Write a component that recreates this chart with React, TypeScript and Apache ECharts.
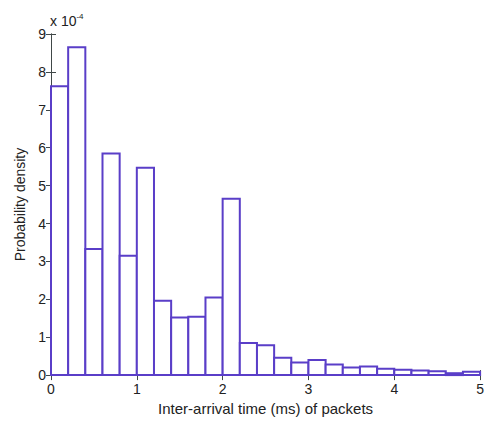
import React, { useEffect, useRef } from "react";
import * as echarts from "echarts";

const binStarts = [0, 0.2, 0.4, 0.6, 0.8, 1.0, 1.2, 1.4, 1.6, 1.8, 2.0, 2.2, 2.4, 2.6, 2.8, 3.0, 3.2, 3.4, 3.6, 3.8, 4.0, 4.2, 4.4, 4.6, 4.8];
const binWidth = 0.2;
const density = [7.62, 8.65, 3.33, 5.85, 3.15, 5.47, 1.96, 1.52, 1.54, 2.05, 4.65, 0.85, 0.79, 0.46, 0.33, 0.40, 0.28, 0.20, 0.23, 0.17, 0.14, 0.12, 0.10, 0.05, 0.09];
const xTicks = [0, 1, 2, 3, 4, 5];
const yTicks = [0, 1, 2, 3, 4, 5, 6, 7, 8, 9];

const FONT = "Liberation Sans, Arial, sans-serif";
const BAR = "#5a3ec8";
const AXIS = "#404848";

export default function App() {
  const ref = useRef<HTMLDivElement>(null);
  useEffect(() => {
    document.body.style.margin = "0";
    if (!ref.current) return;
    const chart = echarts.init(ref.current, null, { renderer: "svg" });
    const data = binStarts.map((s, i) => [s, s + binWidth, density[i]]);
    const axisCommon = {
      axisLine: { show: true, lineStyle: { color: AXIS, width: 1 } },
      axisTick: { show: true, inside: true, length: 5, lineStyle: { color: AXIS } },
      splitLine: { show: false },
    };
    chart.setOption({
      animation: false,
      backgroundColor: "#ffffff",
      grid: { left: 51, right: 5, top: 34, bottom: 40, containLabel: false },
      xAxis: [
        {
          type: "value",
          min: xTicks[0],
          max: xTicks[xTicks.length - 1],
          interval: 1,
          position: "bottom",
          ...axisCommon,
          axisLabel: { color: "#222", fontFamily: FONT, fontSize: 14, margin: 7 },
          name: "Inter-arrival time (ms) of packets",
          nameLocation: "middle",
          nameGap: 19,
          nameTextStyle: { color: "#222", fontFamily: FONT, fontSize: 15 },
        },
        {
          type: "value",
          min: xTicks[0],
          max: xTicks[xTicks.length - 1],
          interval: 1,
          position: "top",
          ...axisCommon,
          axisLabel: { show: false },
        },
      ],
      yAxis: [
        {
          type: "value",
          min: yTicks[0],
          max: yTicks[yTicks.length - 1],
          interval: 1,
          position: "left",
          ...axisCommon,
          axisLabel: { color: "#222", fontFamily: FONT, fontSize: 14, margin: 5 },
          name: "Probability density",
          nameLocation: "middle",
          nameGap: 24,
          nameRotate: 90,
          nameTextStyle: { color: "#222", fontFamily: FONT, fontSize: 14 },
        },
        {
          type: "value",
          min: yTicks[0],
          max: yTicks[yTicks.length - 1],
          interval: 1,
          position: "right",
          ...axisCommon,
          axisLabel: { show: false },
        },
      ],
      graphic: [
        {
          type: "text",
          left: 50,
          top: 12,
          style: {
            text: "{a|x 10}{b|-4}",
            rich: {
              a: { fontFamily: FONT, fontSize: 14, fill: "#222", verticalAlign: "bottom" },
              b: { fontFamily: FONT, fontSize: 8, fill: "#222", verticalAlign: "top", padding: [0, 0, 8, 0] },
            },
          },
        },
      ],
      series: [
        {
          type: "custom",
          xAxisIndex: 0,
          yAxisIndex: 0,
          data,
          encode: { x: [0, 1], y: 2 },
          renderItem: (params: any, api: any) => {
            const x0 = api.value(0);
            const x1 = api.value(1);
            const v = api.value(2);
            const p0 = api.coord([x0, v]);
            const p1 = api.coord([x1, 0]);
            return {
              type: "rect",
              shape: { x: p0[0], y: p0[1], width: p1[0] - p0[0], height: p1[1] - p0[1] },
              style: { fill: "#ffffff", stroke: BAR, lineWidth: 2 },
            };
          },
        },
      ],
    });
    return () => chart.dispose();
  }, []);
  return <div ref={ref} style={{ width: 487, height: 421 }} />;
}
